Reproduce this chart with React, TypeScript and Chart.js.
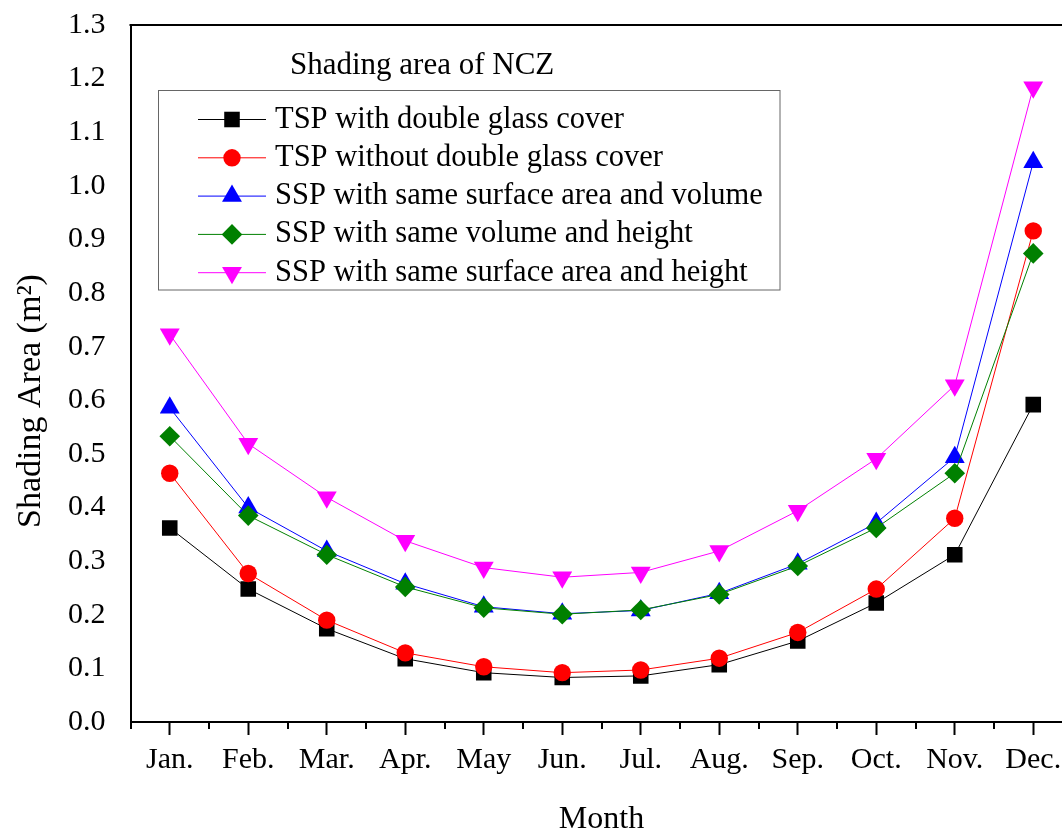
import React, { useEffect, useRef } from 'react';
import { Chart, registerables } from 'chart.js';
import { drawPoint } from 'chart.js/helpers';

Chart.register(...registerables);

const FONT = "'Liberation Serif', 'Times New Roman', serif";

// Month labels and their positions on the linear x axis
const months = ['Jan.', 'Feb.', 'Mar.', 'Apr.', 'May', 'Jun.', 'Jul.', 'Aug.', 'Sep.', 'Oct.', 'Nov.', 'Dec.'];
const monthIndex = [1, 2, 3, 4, 5, 6, 7, 8, 9, 10, 11, 12];

// Monthly shading area (m²) for each configuration
const tspWithCover = [0.362, 0.248, 0.174, 0.118, 0.092, 0.083, 0.086, 0.107, 0.151, 0.222, 0.312, 0.592];
const tspWithoutCover = [0.464, 0.277, 0.190, 0.129, 0.103, 0.092, 0.097, 0.119, 0.167, 0.248, 0.380, 0.916];
const sspAreaVolume = [0.586, 0.400, 0.319, 0.258, 0.215, 0.202, 0.208, 0.240, 0.295, 0.371, 0.494, 1.044];
const sspVolumeHeight = [0.533, 0.385, 0.312, 0.252, 0.213, 0.201, 0.209, 0.238, 0.291, 0.362, 0.464, 0.874];
const sspAreaHeight = [0.723, 0.519, 0.419, 0.338, 0.288, 0.270, 0.279, 0.319, 0.394, 0.491, 0.628, 1.184];

const yTicks = { min: 0, max: 1.3, step: 0.1 };

const chartTitle = 'Shading area of NCZ';
const xTitle = 'Month';
const yTitle = 'Shading Area (m²)';

type SeriesStyle = {
  label: string;
  values: number[];
  color: string;
  pointStyle: string;
  radius: number;
  rotation: number;
};

const series: SeriesStyle[] = [
  { label: 'TSP with double glass cover', values: tspWithCover, color: '#000000', pointStyle: 'rect', radius: 11, rotation: 0 },
  { label: 'TSP without double glass cover', values: tspWithoutCover, color: '#ff0000', pointStyle: 'circle', radius: 8.7, rotation: 0 },
  { label: 'SSP with same surface area and volume', values: sspAreaVolume, color: '#0000ff', pointStyle: 'triangle', radius: 11.5, rotation: 0 },
  { label: 'SSP with same volume and height', values: sspVolumeHeight, color: '#008000', pointStyle: 'rectRot', radius: 10.3, rotation: 0 },
  { label: 'SSP with same surface area and height', values: sspAreaHeight, color: '#ff00ff', pointStyle: 'triangle', radius: 11.5, rotation: 180 },
];

// Minor x ticks, the top frame line, the y-axis title and the boxed legend with its heading
const decorations = {
  id: 'decorations',
  afterDraw(chart: any) {
    const { ctx, chartArea, scales } = chart;
    const x = scales.x;
    ctx.save();
    ctx.strokeStyle = '#000';
    ctx.lineWidth = 2;
    x.ticks
      .filter((t: any) => !Number.isInteger(t.value))
      .forEach((t: any) => {
        const px = Math.round(x.getPixelForValue(t.value));
        ctx.beginPath();
        ctx.moveTo(px, chartArea.bottom);
        ctx.lineTo(px, chartArea.bottom + 7);
        ctx.stroke();
      });
    ctx.beginPath();
    ctx.moveTo(chartArea.left - 1, chartArea.top);
    ctx.lineTo(chartArea.right, chartArea.top);
    ctx.stroke();

    // y-axis title, rotated
    ctx.save();
    ctx.translate(31, 401);
    ctx.rotate(-Math.PI / 2);
    ctx.fillStyle = '#000';
    ctx.font = `34px ${FONT}`;
    ctx.textAlign = 'center';
    ctx.textBaseline = 'middle';
    ctx.fillText(yTitle, 0, 0);
    ctx.restore();

    // heading
    ctx.fillStyle = '#000';
    ctx.font = `31px ${FONT}`;
    ctx.textBaseline = 'middle';
    ctx.textAlign = 'left';
    ctx.fillText(chartTitle, 290, 66);

    // legend box
    ctx.strokeStyle = '#666';
    ctx.lineWidth = 1;
    ctx.strokeRect(158.5, 90.5, 621.5, 199.5);

    const rowY0 = 119.5;
    const rowStep = 38.3;
    series.forEach((s, i) => {
      const y = rowY0 + i * rowStep;
      ctx.strokeStyle = s.color;
      ctx.lineWidth = 1;
      ctx.beginPath();
      ctx.moveTo(198, y);
      ctx.lineTo(266, y);
      ctx.stroke();
      ctx.fillStyle = s.color;
      drawPoint(ctx, { pointStyle: s.pointStyle as any, rotation: s.rotation, radius: s.radius, borderWidth: 0 }, 232, y);
      ctx.fillStyle = '#000';
      ctx.font = `30.5px ${FONT}`;
      ctx.textBaseline = 'middle';
      ctx.fillText(s.label, 275, y);
    });
    ctx.restore();
  },
};

export default function App() {
  const canvasRef = useRef<HTMLCanvasElement | null>(null);

  useEffect(() => {
    const canvas = canvasRef.current;
    if (!canvas) return;
    const datasets = series.map((s, i) => ({
      label: s.label,
      data: s.values.map((v, j) => ({ x: monthIndex[j], y: v })),
      borderColor: s.color,
      backgroundColor: s.color,
      borderWidth: 1,
      tension: 0,
      pointStyle: s.pointStyle,
      pointRotation: s.rotation,
      pointRadius: s.radius,
      pointHoverRadius: s.radius,
      pointBackgroundColor: s.color,
      pointBorderColor: s.color,
      pointBorderWidth: 0,
      order: series.length - i,
    }));

    const chart = new Chart(canvas, {
      type: 'line',
      data: { datasets } as any,
      options: {
        animation: false,
        responsive: false,
        devicePixelRatio: 1,
        events: [],
        layout: { padding: { left: 61, top: 8, right: 0, bottom: 0 } },
        plugins: { legend: { display: false }, tooltip: { enabled: false } },
        scales: {
          x: {
            type: 'linear',
            min: 0.5,
            max: 12.5,
            ticks: {
              stepSize: 0.5,
              autoSkip: false,
              maxRotation: 0,
              minRotation: 0,
              padding: 7,
              color: '#000',
              font: { family: FONT, size: 30 },
              callback: (v: any) => (Number.isInteger(v) ? months[v - 1] : ''),
            },
            grid: {
              display: true,
              drawOnChartArea: false,
              drawTicks: true,
              tickLength: 13,
              tickWidth: 2,
              color: 'rgba(0,0,0,0)',
              tickColor: (c: any) => (c.tick && Number.isInteger(c.tick.value) ? '#000' : 'rgba(0,0,0,0)'),
            },
            border: { display: true, color: '#000', width: 2 },
            title: {
              display: true,
              text: xTitle,
              color: '#000',
              font: { family: FONT, size: 32, lineHeight: 1 },
              padding: { top: 19, bottom: 0 },
            },
          },
          y: {
            type: 'linear',
            min: yTicks.min,
            max: yTicks.max,
            ticks: {
              stepSize: yTicks.step,
              padding: 7,
              color: '#000',
              font: { family: FONT, size: 30 },
              callback: (v: any) => Number(v).toFixed(1),
            },
            grid: {
              display: true,
              drawOnChartArea: false,
              drawTicks: true,
              tickLength: 18,
              color: 'rgba(0,0,0,0)',
              tickColor: 'rgba(0,0,0,0)',
            },
            border: { display: true, color: '#000', width: 2 },
            title: { display: false },
          },
        },
      },
      plugins: [decorations],
    } as any);
    return () => chart.destroy();
  }, []);

  return (
    <div style={{ position: 'absolute', left: 0, top: 0, width: 1062, height: 828, overflow: 'hidden', background: '#fff' }}>
      <canvas ref={canvasRef} width={1084} height={836} style={{ display: 'block' }} />
    </div>
  );
}
